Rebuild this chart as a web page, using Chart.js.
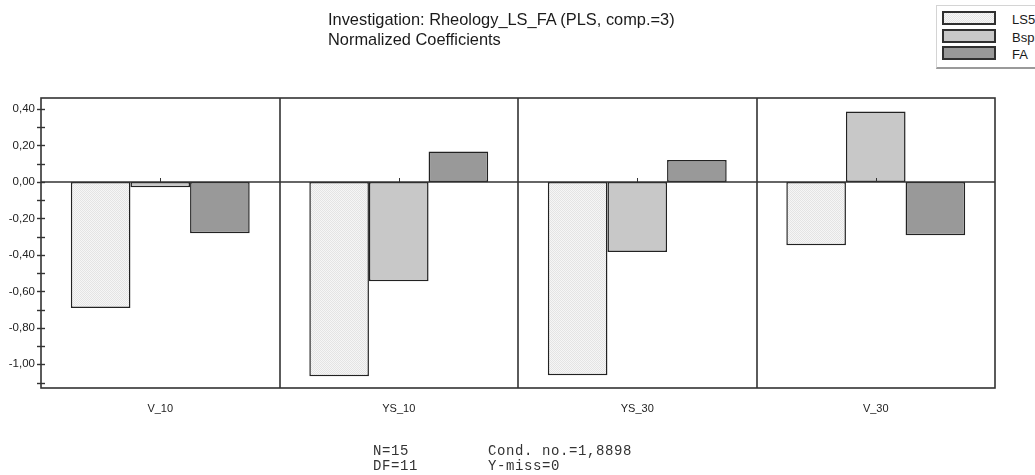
<!DOCTYPE html>
<html>
<head>
<meta charset="utf-8">
<script src="https://cdn.jsdelivr.net/npm/chart.js@4.4.1/dist/chart.umd.min.js"></script>
<style>
  html, body { margin: 0; padding: 0; background: #fff; width: 1035px; height: 475px; overflow: hidden; position: relative; font-family: "Liberation Sans", Arial, sans-serif; }
  #chart { position: absolute; left: 0; top: 0; }
  .title { position: absolute; left: 328px; top: 9px; font-size: 16.4px; line-height: 20px; color: #1a1a1a; white-space: pre; }
  .legend { position: absolute; left: 936px; top: 5px; width: 140px; height: 61px; border: 1px solid #d4d4d4; border-bottom: 2px solid #9a9a9a; background: #fff; }
  .row { position: absolute; left: 942px; width: 200px; height: 14px; }
  .sw { position: absolute; left: 0; top: 0; width: 50px; height: 10px; border: 2px solid #303030; }
  .lbl { position: absolute; left: 70px; top: 2px; font-size: 13px; line-height: 14px; color: #1a1a1a; white-space: pre; }
  .stats { position: absolute; top: 444px; font-family: "Liberation Mono", "Courier New", monospace; font-size: 14px; letter-spacing: 0.6px; line-height: 15px; color: #333; white-space: pre; }
</style>
</head>
<body>
<canvas id="chart" width="1035" height="475"></canvas>
<div class="title">Investigation: Rheology_LS_FA (PLS, comp.=3)
Normalized Coefficients</div>
<div class="legend"></div>
<div id="legendRows"></div>
<div class="stats" style="left:373px">N=15
DF=11</div>
<div class="stats" style="left:488px">Cond. no.=1,8898
Y-miss=0</div>
<script>
// Responses (x categories) and normalized PLS coefficients per factor
const categories = ['V_10', 'YS_10', 'YS_30', 'V_30'];
const seriesNames = ['LS50', 'Bsp50', 'FA'];
const lsValues  = [-0.692, -1.065, -1.060, -0.348];
const bspValues = [-0.029, -0.545, -0.385,  0.386];
const faValues  = [-0.281,  0.166,  0.120, -0.292];

// Value axis
const yMin = -1.13;
const yMax = 0.46;
const yTickValues = [-1.1, -1.0, -0.9, -0.8, -0.7, -0.6, -0.5, -0.4, -0.3, -0.2, -0.1, 0.0, 0.1, 0.2, 0.3, 0.4];

// Fine stipple fill for the first factor
function stipple() {
  const c = document.createElement('canvas');
  c.width = 2; c.height = 2;
  const g = c.getContext('2d');
  g.fillStyle = '#f6f6f6'; g.fillRect(0, 0, 2, 2);
  g.fillStyle = '#e4e4e4'; g.fillRect(0, 0, 1, 1); g.fillRect(1, 1, 1, 1);
  return c;
}
const stippleCanvas = stipple();
const ctx0 = document.getElementById('chart').getContext('2d');
const lsFill = ctx0.createPattern(stippleCanvas, 'repeat');
const fills = [lsFill, '#c8c8c8', '#999999'];
const swatchCss = [
  'repeating-conic-gradient(#f6f6f6 0 25%, #e4e4e4 0 50%) 0 0/2px 2px',
  '#c8c8c8', '#999999'
];

// Legend rows
const rowTops = [11, 29, 46];
const legendRows = document.getElementById('legendRows');
seriesNames.forEach((name, i) => {
  const row = document.createElement('div');
  row.className = 'row';
  row.style.top = rowTops[i] + 'px';
  const sw = document.createElement('div');
  sw.className = 'sw';
  sw.style.background = swatchCss[i];
  const lbl = document.createElement('div');
  lbl.className = 'lbl';
  lbl.textContent = name;
  row.appendChild(sw); row.appendChild(lbl);
  legendRows.appendChild(row);
});

const lineColor = '#333';

// Frame, zero line, category separators and tick marks
const framePlugin = {
  id: 'frame',
  afterDatasetsDraw(chart) {
    const { ctx, chartArea: a, scales: { x, y } } = chart;
    ctx.save();
    ctx.strokeStyle = lineColor;
    ctx.lineWidth = 1.6;
    // separators between categories
    for (let i = 0; i < categories.length - 1; i++) {
      const px = Math.round((x.getPixelForTick(i) + x.getPixelForTick(i + 1)) / 2);
      ctx.beginPath(); ctx.moveTo(px, a.top); ctx.lineTo(px, a.bottom); ctx.stroke();
    }
    // zero line
    const y0 = Math.round(y.getPixelForValue(0));
    ctx.beginPath(); ctx.moveTo(a.left, y0); ctx.lineTo(a.right, y0); ctx.stroke();
    // small marks at category centres on the zero line
    ctx.lineWidth = 1;
    for (let i = 0; i < categories.length; i++) {
      const px = Math.round(x.getPixelForTick(i)) + 0.5;
      ctx.beginPath(); ctx.moveTo(px, y0 - 4); ctx.lineTo(px, y0); ctx.stroke();
    }
    // frame
    ctx.lineWidth = 1.6;
    ctx.strokeRect(a.left, a.top, a.right - a.left, a.bottom - a.top);
    // tick marks crossing the value axis
    ctx.lineWidth = 1.4;
    yTickValues.forEach(v => {
      const py = Math.round(y.getPixelForValue(v)) + 0.5;
      ctx.beginPath(); ctx.moveTo(a.left - 4, py); ctx.lineTo(a.left + 4, py); ctx.stroke();
    });
    ctx.restore();
  }
};

function fmt(v) {
  const r = Math.round(v * 100) / 100;
  return (r === 0 ? 0 : r).toFixed(2).replace('.', ',');
}

new Chart(ctx0, {
  type: 'bar',
  data: {
    labels: categories,
    datasets: [lsValues, bspValues, faValues].map((vals, i) => ({
      label: seriesNames[i],
      data: vals,
      backgroundColor: fills[i],
      borderColor: '#222',
      borderWidth: 1.5,
      borderSkipped: false,
      categoryPercentage: 0.75,
      barPercentage: 1.0
    }))
  },
  options: {
    responsive: false,
    animation: false,
    devicePixelRatio: 1,
    layout: { padding: { left: 0, right: 40, top: 98, bottom: 0 } },
    plugins: { legend: { display: false }, title: { display: false }, tooltip: { enabled: false } },
    scales: {
      x: {
        offset: true,
        grid: { display: false, drawTicks: false },
        border: { display: false },
        ticks: { color: '#222', font: { family: 'Liberation Sans', size: 11 }, padding: 14, maxRotation: 0, autoSkip: false },
        afterFit(s) { s.height = 87; }
      },
      y: {
        min: yMin,
        max: yMax,
        grid: { display: false, drawTicks: false },
        border: { display: false },
        afterBuildTicks(s) { s.ticks = yTickValues.map(v => ({ value: v })); },
        ticks: {
          color: '#222',
          font: { family: 'Liberation Sans', size: 11.5 },
          padding: 6,
          autoSkip: false,
          callback(value) {
            return Math.abs(Math.round(value * 10)) % 2 === 0 ? fmt(value) : '';
          }
        },
        afterFit(s) { s.width = 41; }
      }
    }
  },
  plugins: [framePlugin]
});
</script>
</body>
</html>
